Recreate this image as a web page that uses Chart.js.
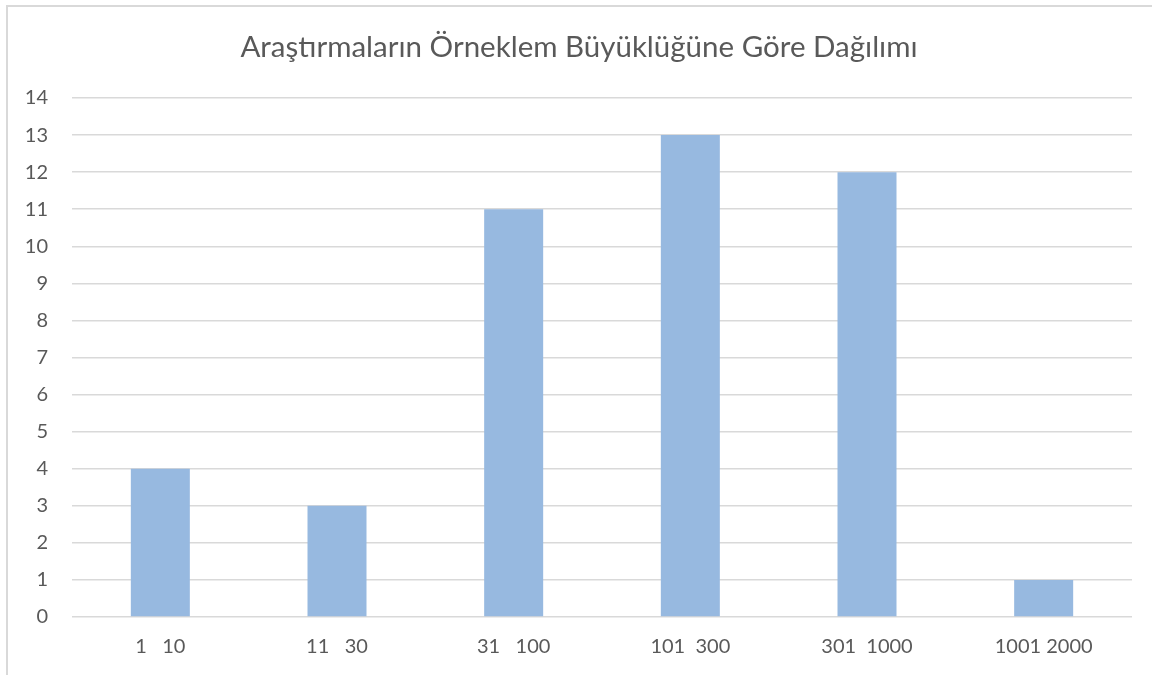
<!DOCTYPE html>
<html>
<head>
<meta charset="utf-8">
<script src="https://cdn.jsdelivr.net/npm/chart.js@4"></script>
<style>
  body { margin: 0; background: #fff; }
  #kutu { position: relative; width: 1152px; height: 675px; overflow: hidden; }
  #cerceve { position: absolute; left: 6px; top: 5px; width: 1160px; height: 690px;
             border: 2px solid #d9d9d9; pointer-events: none; }
  canvas { position: absolute; left: 0; top: 0; }
</style>
</head>
<body>
<div id="kutu">
  <canvas id="grafik" width="1152" height="675"></canvas>
  <div id="cerceve"></div>
</div>
<script>
// Örneklem büyüklüğü aralıkları ve araştırma sayıları
const kategoriler = ['1   10', '11   30', '31   100', '101  300', '301  1000', '1001 2000'];
const arastirmaSayisi = [4, 3, 11, 13, 12, 1];
const baslik = 'Araştırmaların Örneklem Büyüklüğüne Göre Dağılımı';

const yaziTipi = 'Lato, "Open Sans", sans-serif';
const yaziRengi = '#595959';

const grafik = new Chart(document.getElementById('grafik'), {
    type: 'bar',
    data: {
        labels: kategoriler,
        datasets: [{
            label: 'Araştırma sayısı',
            data: arastirmaSayisi,
            backgroundColor: '#97b9e0',
            borderWidth: 0,
            categoryPercentage: 1,
            barPercentage: 0.334
        }]
    },
    options: {
        responsive: false,
        animation: false,
        layout: { padding: { top: 7, right: 20, bottom: 0, left: 26 } },
        plugins: {
            legend: { display: false },
            tooltip: { enabled: false },
            title: {
                display: true,
                text: baslik,
                color: yaziRengi,
                font: { family: yaziTipi, size: 29.5, weight: 'normal' },
                padding: { top: 23, bottom: 32.6 }
            }
        },
        scales: {
            x: {
                grid: { display: false, drawTicks: false },
                border: { display: false },
                ticks: { color: yaziRengi, font: { family: yaziTipi, size: 20 }, padding: 18, maxRotation: 0 },
                afterFit: (olcek) => { olcek.height = 58; }
            },
            y: {
                min: 0,
                max: 14,
                grid: { color: '#d9d9d9', lineWidth: 1.5, drawTicks: false },
                border: { display: false },
                ticks: { stepSize: 1, color: yaziRengi, font: { family: yaziTipi, size: 20 }, padding: 24 },
                afterFit: (olcek) => { olcek.width = 46; }
            }
        }
    }
});
</script>
</body>
</html>
